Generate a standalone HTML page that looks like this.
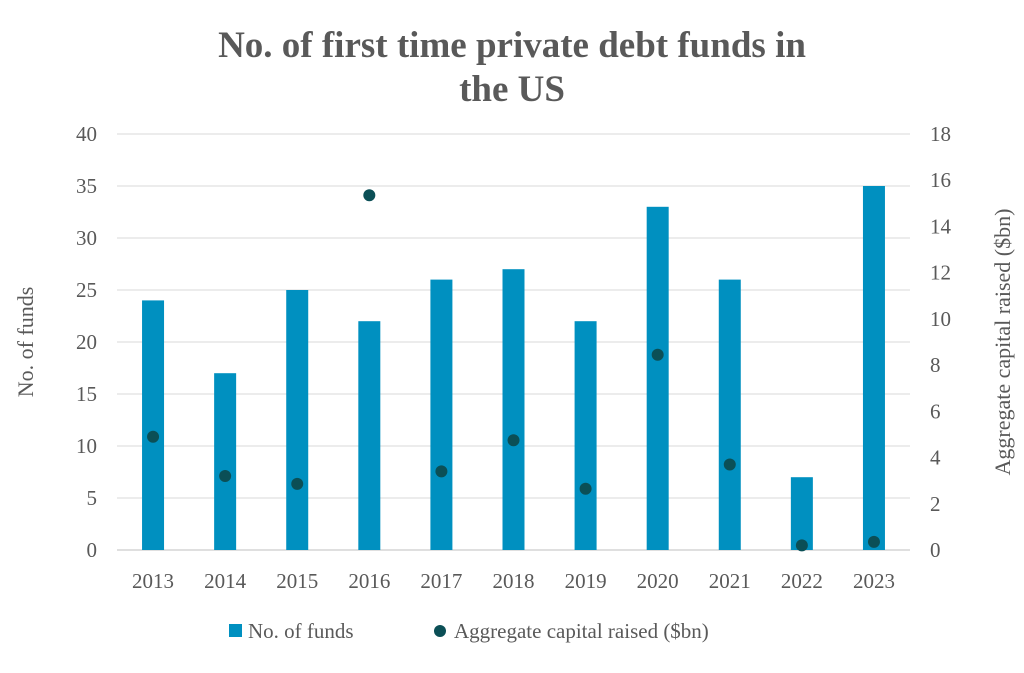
<!DOCTYPE html>
<html><head><meta charset="utf-8"><style>
html,body{margin:0;padding:0;background:#fff;}
svg text{font-family:"Liberation Serif",serif;}
</style></head><body>
<svg id="chart" width="1024" height="668" viewBox="0 0 1024 668" xmlns="http://www.w3.org/2000/svg">
<rect width="1024" height="668" fill="#fff"/>
<text x="512" y="57" text-anchor="middle" font-size="37" font-weight="bold" fill="#595959">No. of first time private debt funds in</text>
<text x="512" y="101" text-anchor="middle" font-size="37" font-weight="bold" fill="#595959">the US</text>
<g id="grid"></g>
<g id="bars"></g>
<g id="dots"></g>
<g id="axes"></g>
<text transform="translate(33,342) rotate(-90)" text-anchor="middle" font-size="22" fill="#595959">No. of funds</text>
<text transform="translate(1010,342) rotate(-90)" text-anchor="middle" font-size="22" fill="#595959">Aggregate capital raised ($bn)</text>
<g>
<rect x="229" y="624" width="13" height="13" fill="#0090c0"/>
<text x="248" y="638" font-size="21" fill="#595959">No. of funds</text>
<circle cx="440" cy="631" r="6" fill="#0b4f56"/>
<text x="454" y="638" font-size="21" fill="#595959">Aggregate capital raised ($bn)</text>
</g>
</svg>
<script>
const years = ["2013","2014","2015","2016","2017","2018","2019","2020","2021","2022","2023"];
const funds = [24,17,25,22,26,27,22,33,26,7,35];
const capital = [4.9,3.2,2.86,15.35,3.4,4.75,2.65,8.45,3.7,0.2,0.35];
const leftTicks = [0,5,10,15,20,25,30,35,40];
const rightTicks = [0,2,4,6,8,10,12,14,16,18];
const NS="http://www.w3.org/2000/svg";
const x0=117,x1=910,yTop=134,yBot=550;
const yL=v=>yBot-(v/40)*(yBot-yTop);
const yR=v=>yBot-(v/18)*(yBot-yTop);
const step=(x1-x0)/years.length;
const xC=i=>x0+step*(i+0.5);
function mk(t,a,p){const e=document.createElementNS(NS,t);for(const k in a)e.setAttribute(k,a[k]);p.appendChild(e);return e;}
const grid=document.getElementById('grid'),axes=document.getElementById('axes');
leftTicks.forEach(v=>{
  const l=mk('line',{x1:x0,x2:x1,y1:yL(v),y2:yL(v),stroke:v===0?'#bfbfbf':'#d9d9d9','stroke-width':1},grid);
  
  
  const t=mk('text',{x:97,y:yL(v)+7,'text-anchor':'end','font-size':21,fill:'#595959'},axes);
  t.textContent=v;
  
  
});
rightTicks.forEach(v=>{
  const t=mk('text',{x:930,y:yR(v)+7,'text-anchor':'start','font-size':21,fill:'#595959'},axes);
  t.textContent=v;
  
  
});
const bars=document.getElementById('bars'),dots=document.getElementById('dots');
years.forEach((y,i)=>{
  const b=mk('rect',{x:xC(i)-11,y:yL(funds[i]),width:22,height:yBot-yL(funds[i]),fill:'#0090c0'},bars);
  
  
  const c=mk('circle',{cx:xC(i),cy:yR(capital[i]),r:6,fill:'#0b4f56'},dots);
  
  
  const t=mk('text',{x:xC(i),y:588,'text-anchor':'middle','font-size':21,fill:'#595959'},axes);
  t.textContent=y;
  
  
});
</script>
</body></html>
